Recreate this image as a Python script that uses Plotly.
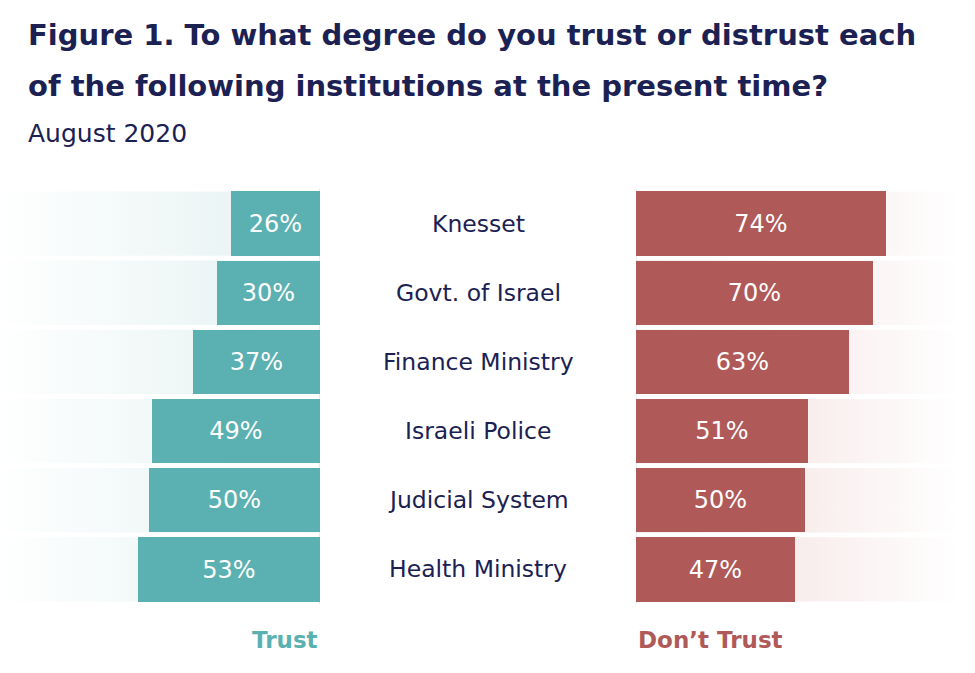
import plotly.graph_objects as go

categories = ["Knesset", "Govt. of Israel", "Finance Ministry", "Israeli Police", "Judicial System", "Health Ministry"]
trust = [26, 30, 37, 49, 50, 53]
dont_trust = [74, 70, 63, 51, 50, 47]
band_value = 100

TEAL = "#5bb1b1"
RED = "#b05959"
NAVY = "#1b2152"
FONT = "DejaVu Sans"

n = len(categories)
ypos = [n - 1 - i for i in range(n)]
BW = 0.93

def band_poly(v):
    xs, ys = [], []
    for y in ypos:
        xs += [0, v, v, 0, 0, None]
        ys += [y - BW / 2, y - BW / 2, y + BW / 2, y + BW / 2, y - BW / 2, None]
    return xs, ys

W, H = 975, 673
left_end, right_start = 320, 636
top_px, bot_px = 189, 604
LR = left_end / 3.43
RR = (W - right_start) / 3.38

fig = go.Figure()
bx, by = band_poly(band_value)
fig.add_trace(go.Scatter(x=bx, y=by, xaxis="x", yaxis="y", mode="lines", line=dict(width=0),
                         fill="toself", hoverinfo="skip", showlegend=False,
                         fillgradient=dict(type="horizontal", start=0, stop=95,
                                           colorscale=[[0, "#e3f1f1"], [1, "#ffffff"]])))
fig.add_trace(go.Scatter(x=bx, y=by, xaxis="x2", yaxis="y", mode="lines", line=dict(width=0),
                         fill="toself", hoverinfo="skip", showlegend=False,
                         fillgradient=dict(type="horizontal", start=0, stop=96,
                                           colorscale=[[0, "#f2dada"], [1, "#ffffff"]])))

fig.add_trace(go.Bar(x=trust, y=ypos, orientation="h", xaxis="x3", yaxis="y", width=BW,
                     marker=dict(color=TEAL, line=dict(width=0)),
                     text=[f"{v}%" for v in trust], textposition="inside", insidetextanchor="middle",
                     textfont=dict(family=FONT, size=24, color="white"), showlegend=False))
fig.add_trace(go.Bar(x=dont_trust, y=ypos, orientation="h", xaxis="x4", yaxis="y", width=BW,
                     marker=dict(color=RED, line=dict(width=0)),
                     text=[f"{v}%" for v in dont_trust], textposition="inside", insidetextanchor="middle",
                     textfont=dict(family=FONT, size=24, color="white"), showlegend=False))

annotations = []
for c, y in zip(categories, ypos):
    annotations.append(dict(text=c, x=478 / W, xref="paper", y=y, yref="y", showarrow=False,
                            xanchor="center", yanchor="middle",
                            font=dict(family=FONT, size=23.5, color=NAVY)))
annotations += [
    dict(text="<b>Figure 1. To what degree do you trust or distrust each</b>", x=26 / W, y=1 - 35 / H,
         xref="paper", yref="paper", xanchor="left", yanchor="middle", showarrow=False,
         font=dict(family=FONT, size=29, color=NAVY)),
    dict(text="<b>of the following institutions at the present time?</b>", x=26 / W, y=1 - 86 / H,
         xref="paper", yref="paper", xanchor="left", yanchor="middle", showarrow=False,
         font=dict(family=FONT, size=29, color=NAVY)),
    dict(text="August 2020", x=26 / W, y=1 - 134 / H,
         xref="paper", yref="paper", xanchor="left", yanchor="middle", showarrow=False,
         font=dict(family=FONT, size=25, color=NAVY)),
    dict(text="<b>Trust</b>", x=left_end / W, y=1 - 640 / H,
         xref="paper", yref="paper", xanchor="right", yanchor="middle", showarrow=False,
         font=dict(family=FONT, size=23, color=TEAL)),
    dict(text="<b>Don\u2019t Trust</b>", x=right_start / W, y=1 - 640 / H,
         xref="paper", yref="paper", xanchor="left", yanchor="middle", showarrow=False,
         font=dict(family=FONT, size=23, color=RED)),
]

shapes = []
for xr in ["x", "x2"]:
    shapes.append(dict(type="line", xref=xr, yref="y", x0=0, x1=0, y0=-0.5 - 0.15, y1=n - 0.5 + 0.12,
                       line=dict(color="#e3e3f3", width=1.5), layer="below"))

fig.update_layout(
    width=W, height=H, margin=dict(l=0, r=0, t=0, b=0),
    paper_bgcolor="white", plot_bgcolor="rgba(0,0,0,0)",
    barmode="overlay", bargap=0,
    xaxis=dict(domain=[0, left_end / W], range=[LR, 0], visible=False, fixedrange=True),
    xaxis2=dict(domain=[right_start / W, 1], range=[0, RR], visible=False, fixedrange=True),
    xaxis3=dict(overlaying="x", range=[LR, 0], visible=False, fixedrange=True),
    xaxis4=dict(overlaying="x2", range=[0, RR], visible=False, fixedrange=True),
    yaxis=dict(domain=[1 - bot_px / H, 1 - top_px / H], range=[-0.5, n - 0.5], visible=False,
               fixedrange=True),
    annotations=annotations, shapes=shapes,
    uniformtext=dict(mode=False),
)
fig.write_html("out.html")
